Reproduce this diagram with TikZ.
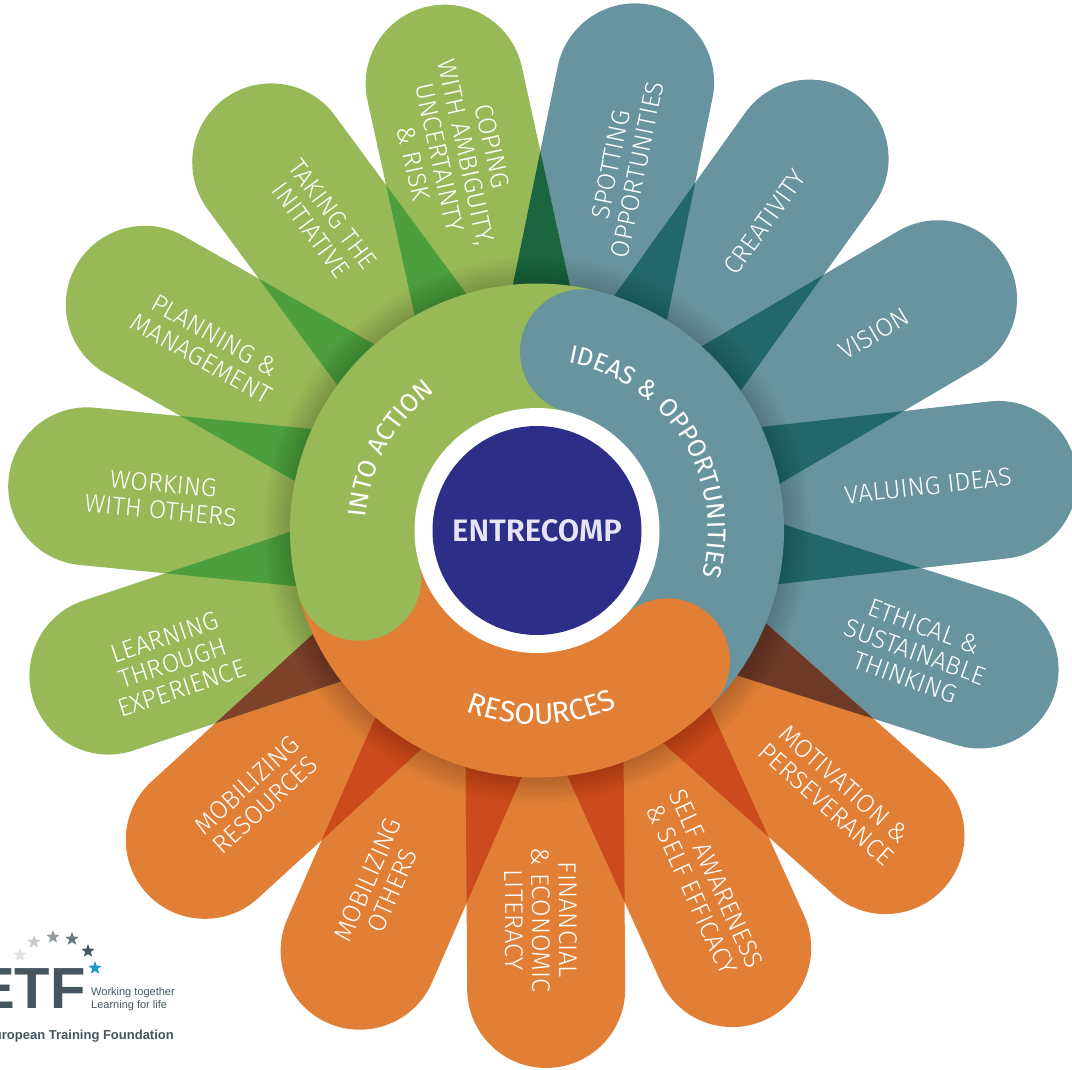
\documentclass[tikz,border=0pt]{standalone}
\usepackage{fontspec}
\setmainfont{Fira Sans Light}[BoldFont={Fira Sans SemiBold}]
\newfontfamily\ringface{Fira Sans}[LetterSpace=4]
\newfontfamily\resface{Fira Sans}[LetterSpace=12]
\newfontfamily\logofont{Liberation Sans}
\usetikzlibrary{shapes.geometric, decorations.text}

\definecolor{grn}{HTML}{98B957}
\definecolor{tea}{HTML}{67949F}
\definecolor{org}{HTML}{E07F35}
\definecolor{grndark}{HTML}{4D9E3D}
\definecolor{teadark}{HTML}{22686B}
\definecolor{orgdark}{HTML}{CC4B1C}
\definecolor{bottle}{HTML}{1B6540}
\definecolor{peat}{HTML}{6E3A28}
\definecolor{bark}{HTML}{7F432A}
\definecolor{navy}{HTML}{2C2E87}
\definecolor{lilac}{HTML}{E6E4F5}
\definecolor{slate}{HTML}{44555F}
\definecolor{logoblue}{HTML}{1D9BC4}

% one petal, pointing along the angle given
\newcommand{\petalpath}[1]{[shift={(543,-531)},rotate=#1]
  (0,-79) -- (458,-79) arc[start angle=-90,end angle=90,radius=79] -- (0,79) -- cycle}

\tikzset{
  petaltext/.style={text=white,align=center,font=\fontsize{25.5}{27}\selectfont,inner sep=0pt},
  ringtext/.style={decorate,decoration={text along path,text align=center}},
  logostar/.style={star,star points=5,star point ratio=2.4,minimum size=14pt,inner sep=0pt}
}
\newcommand{\ringfont}{\ringface\fontsize{25.5}{26}\selectfont\color{white}}
\newcommand{\resfont}{\resface\fontsize{29.5}{30}\selectfont\color{white}}

\begin{document}
\begin{tikzpicture}[x=1pt,y=1pt]
  \useasboundingbox (0,0) rectangle (1072,-1070);
  \coordinate (hub) at (537,-530.5);

  % petals, then the overlap of each with the next one
  \foreach \ang/\tone in {78.4/tea,54.4/tea,30.4/tea,6.4/tea,-17.6/tea,
      -41.6/org,-65.6/org,-89.6/org,-113.6/org,-137.6/org,
      -161.6/grn,174.4/grn,150.4/grn,126.4/grn,102.4/grn}
    \fill[\tone] \petalpath{\ang};
  \foreach \ang/\dark in {78.4/teadark,54.4/teadark,30.4/teadark,6.4/teadark,-17.6/peat,
      -41.6/orgdark,-65.6/orgdark,-89.6/orgdark,-113.6/orgdark,-137.6/bark,
      -161.6/grndark,174.4/grndark,150.4/grndark,126.4/grndark,102.4/bottle}
  {
    \begin{scope}
      \clip \petalpath{\ang};
      \pgfmathsetmacro{\nxt}{\ang-24}
      \fill[\dark] \petalpath{\nxt};
    \end{scope}
  }

  % soft shadow of the ring
  \foreach \rad in {249,252,...,273}
    \fill[black,opacity=0.02] (hub) circle[radius=\rad];

  % the ring: three arcs, each head laid over the tail of the one before
  \draw[grn,line width=125pt] (hub) ++(195:184.5) arc[start angle=195,end angle=75.7,radius=184.5];
  \draw[tea,line width=125pt] (hub) ++(75.7:184.5) arc[start angle=75.7,end angle=-45,radius=184.5];
  \draw[org,line width=125pt] (hub) ++(-45:184.5) arc[start angle=-45,end angle=-165,radius=184.5];
  \fill[tea] (hub) ++(75.7:184.5) circle[radius=62.5];
  \fill[org] (hub) ++(-45:184.5) circle[radius=62.5];
  \fill[grn] (hub) ++(195:184.5) circle[radius=62.5];

  \node[circle,fill=white,minimum size=245pt,inner sep=0pt] (rim) at (hub) {};
  \node[circle,fill=navy,minimum size=209pt,inner sep=0pt,text=lilac,font=\fontsize{31}{31}\selectfont\bfseries] (core) at (hub) {ENTRECOMP};

  \path[ringtext,decoration={text={|\ringfont|IDEAS {\&} OPPORTUNITIES}}]
    (hub) ++(110:171) arc[start angle=110,end angle=-46,radius=171];
  \path[ringtext,decoration={text={|\ringfont|INTO ACTION}}]
    (hub) ++(200:172) arc[start angle=200,end angle=102,radius=172];
  \path[ringtext,decoration={text={|\resfont|RESOURCES}}]
    (hub) ++(-130:194) arc[start angle=-130,end angle=-47,radius=194];

  % labels of the petals
  \node[petaltext,rotate=78.4] (spotting) at (624,-167) {SPOTTING\\OPPORTUNITIES};
  \node[petaltext,rotate=54.4] (creativity) at (765,-222) {CREATIVITY};
  \node[petaltext,rotate=30.4] (vision) at (874,-334) {VISION};
  \node[petaltext,rotate=6.4] (valuing) at (928,-486) {VALUING IDEAS};
  \node[petaltext,rotate=-20] (ethical) at (915,-652) {ETHICAL \&\\SUSTAINABLE\\THINKING};
  \node[petaltext,rotate=-41.6] (motivation) at (835,-794) {MOTIVATION \&\\PERSEVERANCE};
  \node[petaltext,rotate=-65.6] (selfaware) at (704,-884) {SELF AWARENESS\\\& SELF EFFICACY};
  \node[petaltext,rotate=-89.6] (financial) at (541,-920) {FINANCIAL\\\& ECONOMIC\\LITERACY};
  \node[petaltext,rotate=66.4] (others) at (380,-885) {MOBILIZING\\OTHERS};
  \node[petaltext,rotate=42.4] (resources) at (256,-795) {MOBILIZING\\RESOURCES};
  \node[petaltext,rotate=18.4] (learning) at (173,-663) {LEARNING\\THROUGH\\EXPERIENCE};
  \node[petaltext,rotate=-5.6] (working) at (162,-497) {WORKING\\WITH OTHERS};
  \node[petaltext,rotate=-29.6] (planning) at (208,-347) {PLANNING \&\\MANAGEMENT};
  \node[petaltext,rotate=-53.6] (initiative) at (322,-222) {TAKING THE\\INITIATIVE};
  \node[petaltext,rotate=-77.6] (coping) at (453,-155) {COPING\\WITH AMBIGUITY,\\UNCERTAINTY\\\& RISK};

  % logo
  \node[logostar,fill=slate!18] (star1) at (20,-955) {};
  \node[logostar,fill=slate!30] (star2) at (34,-942) {};
  \node[logostar,fill=slate!60] (star3) at (53,-937) {};
  \node[logostar,fill=slate!80] (star4) at (72,-939) {};
  \node[logostar,fill=slate] (star5) at (88,-951) {};
  \node[logostar,fill=logoblue] (star6) at (95,-968) {};
  \node[anchor=base east,inner sep=0pt,text=slate,font=\logofont\bfseries\fontsize{58}{58}\selectfont] (etf) at (86,-1008) {ETF};
  \node[anchor=base west,inner sep=0pt,align=left,text=slate,font=\logofont\fontsize{11}{13}\selectfont] (motto) at (91,-1008) {Working together\\Learning for life};
  \node[anchor=base east,inner sep=0pt,text=slate,font=\logofont\bfseries\fontsize{13}{13}\selectfont] (foundation) at (174,-1039) {European Training Foundation};
\end{tikzpicture}
\end{document}
